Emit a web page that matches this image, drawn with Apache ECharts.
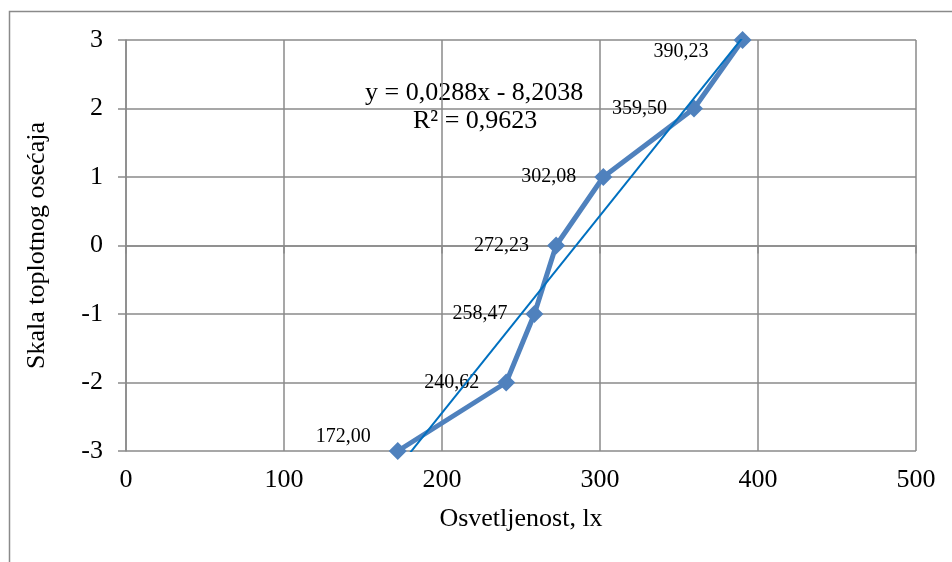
<!DOCTYPE html>
<html>
<head>
<meta charset="utf-8">
<script src="https://cdn.jsdelivr.net/npm/echarts@6/dist/echarts.min.js"></script>
<style>html,body{margin:0;padding:0;background:#fff;}#c{width:952px;height:562px;}</style>
</head>
<body>
<div id="c"></div>
<script>
var xValues = [172.00, 240.62, 258.47, 272.23, 302.08, 359.50, 390.23];
var yValues = [-3, -2, -1, 0, 1, 2, 3];
var xTicks = [0, 100, 200, 300, 400, 500];
var yTicks = [-3, -2, -1, 0, 1, 2, 3];
var trendSlope = 0.0288;
var trendIntercept = -8.2038;
var trendR2 = 0.9623;
var xName = 'Osvetljenost, lx';
var yName = 'Skala toplotnog osećaja';

var FONT = '"Liberation Serif", "Times New Roman", serif';
var GRID_COLOR = '#8a8a8a';
var fmt = function (v, d) { return v.toFixed(d).replace('.', ','); };

var labelOffsets = {0: [0, -14], 6: [-7, 12]};
var mainData = xValues.map(function (x, i) {
  var o = { value: [x, yValues[i]] };
  if (labelOffsets[i]) o.label = { offset: labelOffsets[i] };
  return o;
});
var xStart = xValues[0], xEnd = xValues[xValues.length - 1];
var trendData = [[xStart, trendSlope * xStart + trendIntercept], [xEnd, trendSlope * xEnd + trendIntercept]];

var chart = echarts.init(document.getElementById('c'), null, { renderer: 'canvas' });
chart.setOption({
  animation: false,
  backgroundColor: '#fff',
  grid: { left: 126, right: 36, top: 40, bottom: 111, containLabel: false },
  xAxis: {
    type: 'value', min: xTicks[0], max: xTicks[xTicks.length - 1], interval: 100,
    name: xName, nameLocation: 'middle', nameGap: 55,
    nameTextStyle: { fontFamily: FONT, fontSize: 26, color: '#000' },
    axisLine: { show: true, lineStyle: { color: GRID_COLOR, width: 1.5 } },
    axisTick: { show: true, length: 8, inside: false, lineStyle: { color: GRID_COLOR, width: 1.5 } },
    axisLabel: { fontFamily: FONT, fontSize: 26, color: '#000', margin: 16 },
    splitLine: { show: true, lineStyle: { color: GRID_COLOR, width: 1.5 } }
  },
  yAxis: {
    type: 'value', min: yTicks[0], max: yTicks[yTicks.length - 1], interval: 1,
    name: yName, nameLocation: 'middle', nameGap: 76, nameRotate: 90,
    nameTextStyle: { fontFamily: FONT, fontSize: 26, color: '#000' },
    axisLine: { show: true, onZero: false, lineStyle: { color: GRID_COLOR, width: 1.5 } },
    axisTick: { show: true, length: 8, inside: false, lineStyle: { color: GRID_COLOR, width: 1.5 } },
    axisLabel: { fontFamily: FONT, fontSize: 26, color: '#000', margin: 23 },
    splitLine: { show: true, lineStyle: { color: GRID_COLOR, width: 1.5 } }
  },
  series: [
    {
      type: 'line', data: mainData, clip: false,
      symbol: 'diamond', symbolSize: 18,
      lineStyle: { color: '#4F81BD', width: 5 },
      itemStyle: { color: '#4F81BD' },
      label: {
        show: true, position: 'left', distance: 18,
        fontFamily: FONT, fontSize: 20, color: '#000',
        formatter: function (p) { return fmt(p.value[0], 2); }
      },
      z: 3
    },
    {
      type: 'line', data: trendData, clip: true, symbol: 'none',
      lineStyle: { color: '#0070C0', width: 2 },
      z: 4
    }
  ],
  graphic: [
    { type: 'polyline', shape: { points: [[9.5, 562], [9.5, 11.5], [952, 11.5]] },
      style: { stroke: GRID_COLOR, lineWidth: 1.5, fill: null } },
    { type: 'text', left: 365, top: 80,
      style: { text: 'y = ' + fmt(trendSlope, 4) + 'x - ' + fmt(-trendIntercept, 4), font: '26px ' + FONT, fill: '#000' } },
    { type: 'text', left: 413, top: 108,
      style: { text: 'R² = ' + fmt(trendR2, 4), font: '26px ' + FONT, fill: '#000' } }
  ]
});
</script>
</body>
</html>
